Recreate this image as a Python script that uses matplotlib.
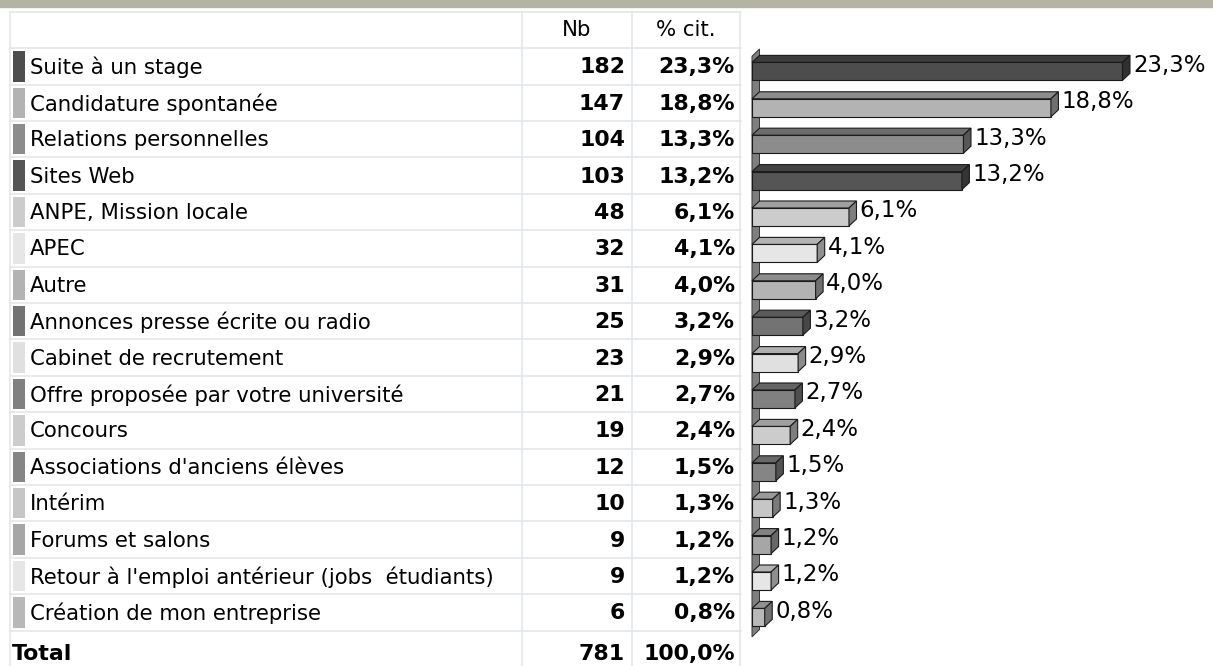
import numpy as np
import matplotlib
matplotlib.use("Agg")
import matplotlib.pyplot as plt
from matplotlib.patches import Polygon, Rectangle
from matplotlib.colors import to_rgb

# Données
modes = ["Suite à un stage", "Candidature spontanée", "Relations personnelles",
         "Sites Web", "ANPE, Mission locale", "APEC", "Autre",
         "Annonces presse écrite ou radio", "Cabinet de recrutement",
         "Offre proposée par votre université", "Concours",
         "Associations d'anciens élèves", "Intérim", "Forums et salons",
         "Retour à l'emploi antérieur (jobs  étudiants)",
         "Création de mon entreprise"]
nb = [182, 147, 104, 103, 48, 32, 31, 25, 23, 21, 19, 12, 10, 9, 9, 6]
pct = [23.3, 18.8, 13.3, 13.2, 6.1, 4.1, 4.0, 3.2, 2.9, 2.7, 2.4, 1.5, 1.3, 1.2, 1.2, 0.8]
total_nb = 781
total_pct = 100.0
couleurs = ["#4d4d4d", "#b3b3b3", "#8c8c8c", "#555555", "#cccccc", "#e6e6e6",
            "#b3b3b3", "#737373", "#e0e0e0", "#808080", "#cccccc", "#858585",
            "#c6c6c6", "#a6a6a6", "#e6e6e6", "#b8b8b8"]

def fmt(v):
    return f"{v:.1f}".replace(".", ",") + "%"

W, H = 1213, 666
fig = plt.figure(figsize=(W / 100, H / 100), dpi=100)
fig.patch.set_facecolor("white")

# bandeau du haut
fig.patches.append(Rectangle((0, 1 - 7 / H), 1, 7 / H, transform=fig.transFigure,
                             color="#b4b4a4", zorder=0))

n = len(modes)
rows = np.arange(n)
pitch = 36.4

# ---- tableau ----
ax_t = fig.add_axes([0, (H - 667) / H, 741 / W, (pitch * 18) / H])
ax_t.set_xlim(0, 741)
ax_t.set_ylim(16.5, -1.5)
ax_t.axis("off")
grille = "#e3e7eb"
for y in np.arange(-1.5, 16.0, 1.0):
    ax_t.plot([10, 741], [y, y], color=grille, lw=1.2, clip_on=False)
for x in [10, 522, 632, 740]:
    ax_t.plot([x, x], [-1.5, 16.5], color=grille, lw=1.2, clip_on=False)

ax_t.barh(rows, 12, left=13, height=0.83, color=couleurs)
fs = 15.3
fsb = 15.8
ax_t.text(577, -1, "Nb", ha="center", va="center", fontsize=fs)
ax_t.text(686, -1, "% cit.", ha="center", va="center", fontsize=fs)
for i in rows:
    ax_t.text(30, i + 0.03, modes[i], ha="left", va="center", fontsize=fs)
    ax_t.text(625, i + 0.03, str(nb[i]), ha="right", va="center", fontsize=fsb, fontweight="bold")
    ax_t.text(735, i + 0.03, fmt(pct[i]), ha="right", va="center", fontsize=fsb, fontweight="bold")
ax_t.text(12, n + 0.15, "Total", ha="left", va="center", fontsize=fsb, fontweight="bold")
ax_t.text(625, n + 0.15, str(total_nb), ha="right", va="center", fontsize=fsb, fontweight="bold")
ax_t.text(735, n + 0.15, fmt(total_pct), ha="right", va="center", fontsize=fsb, fontweight="bold")

# ---- barres 3D ----
px_pct = 15.9
ax_b = fig.add_axes([752 / W, (H - (49 + pitch * n)) / H, (W - 752) / W, pitch * n / H])
ax_b.set_xlim(0, (W - 752) / px_pct)
ax_b.set_ylim(n - 0.5, -0.5)
ax_b.axis("off")
dx = 7.5 / px_pct
dy = 7.0 / pitch
h = 18.0 / pitch
off = 0.115
edge = "#1a1a1a"

# paroi
ax_b.add_patch(Polygon([(0, 15.65), (0, -0.3), (dx, -0.5), (dx, 15.45)],
                       closed=True, facecolor="#7f7f7f", edgecolor="#333333",
                       lw=0.7, clip_on=False, zorder=1))

ax_b.barh(rows + off, pct, height=h, color=couleurs, edgecolor=edge, lw=0.8, zorder=3)
for i in rows:
    v = pct[i]
    c = np.array(to_rgb(couleurs[i]))
    yt = i + off - h / 2
    yb = i + off + h / 2
    ax_b.add_patch(Polygon([(0, yt), (v, yt), (v + dx, yt - dy), (dx, yt - dy)],
                           closed=True, facecolor=c * 0.78, edgecolor=edge, lw=0.8,
                           zorder=3, clip_on=False))
    ax_b.add_patch(Polygon([(v, yt), (v, yb), (v + dx, yb - dy), (v + dx, yt - dy)],
                           closed=True, facecolor=c * 0.62, edgecolor=edge, lw=0.8,
                           zorder=3, clip_on=False))
    ax_b.text(v + dx + 0.2, i - 0.05, fmt(v), ha="left", va="center", fontsize=16.5,
              clip_on=False)

fig.savefig("out.png", dpi=100)
